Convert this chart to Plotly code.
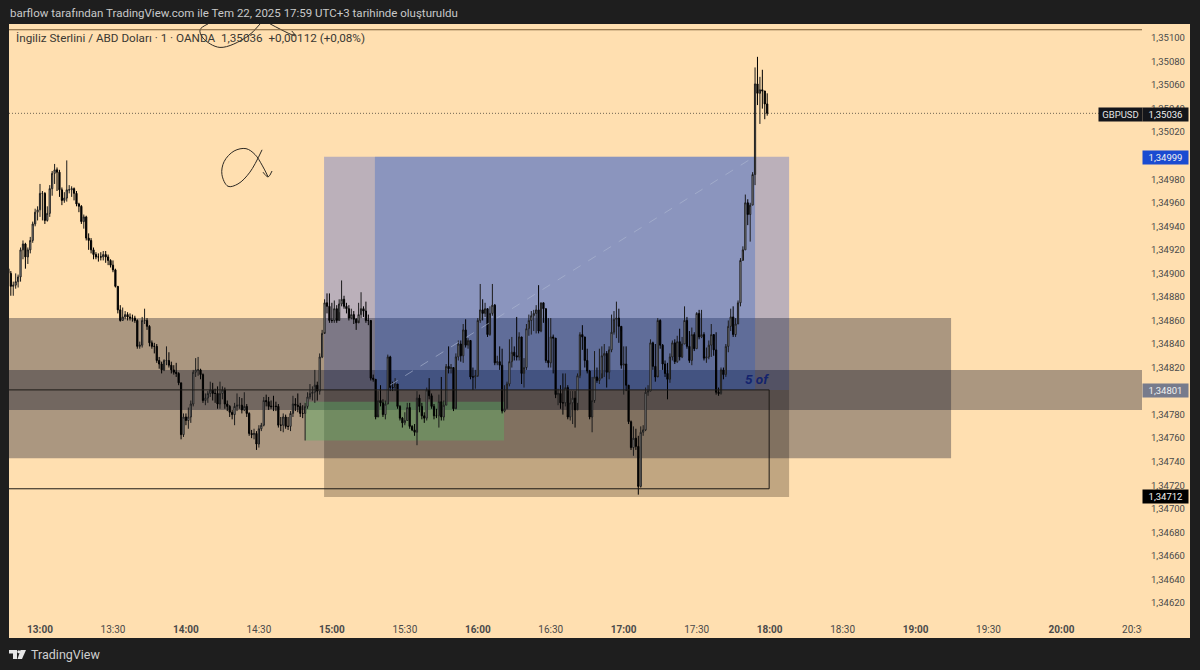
import pandas as pd
import plotly.graph_objects as go

# all prices are points above 1.34000 (900 = 1.34900)
closes = [
    900, 889, 890, 893, 897, 920, 925, 914, 920, 928,
    942, 952, 954, 968, 968, 945, 951, 972, 985, 988,
    986, 971, 962, 964, 971, 971, 972, 968, 959, 957,
    944, 948, 930, 928, 920, 916, 914, 914, 914, 916,
    914, 911, 907, 903, 889, 869, 860, 863, 865, 863,
    862, 862, 860, 838, 839, 860, 860, 855, 841, 838,
    838, 826, 823, 818, 826, 826, 822, 818, 816, 815,
    807, 763, 778, 775, 778, 789, 816, 818, 818, 814,
    792, 794, 798, 801, 798, 798, 789, 798, 801, 789,
    787, 782, 780, 787, 788, 788, 784, 787, 781, 764,
    763, 764, 755, 768, 771, 792, 791, 787, 787, 787,
    787, 771, 771, 778, 770, 770, 781, 789, 788, 787,
    781, 781, 787, 795, 798, 799, 805, 800, 829, 849,
    875, 872, 860, 860, 870, 860, 874, 878, 872, 870,
    862, 865, 861, 858, 865, 870, 868, 860, 860, 811,
    810, 778, 792, 790, 780, 789, 829, 803, 803, 806,
    787, 777, 773, 775, 786, 770, 767, 765, 794, 787,
    779, 777, 801, 796, 787, 779, 779, 791, 778, 788,
    821, 819, 820, 785, 829, 840, 830, 852, 839, 843,
    812, 812, 813, 860, 869, 866, 870, 848, 866, 873,
    824, 825, 822, 783, 785, 806, 825, 833, 830, 829,
    846, 815, 820, 853, 860, 864, 866, 869, 851, 875,
    870, 826, 824, 846, 845, 797, 798, 790, 790, 803,
    778, 790, 794, 784, 813, 848, 846, 826, 817, 778,
    792, 812, 809, 811, 830, 832, 816, 835, 850, 861,
    862, 855, 822, 823, 805, 774, 752, 760, 753, 719,
    765, 767, 799, 800, 841, 821, 812, 860, 839, 823,
    815, 810, 829, 841, 825, 842, 829, 840, 860, 838,
    826, 848, 836, 866, 846, 848, 828, 829, 839, 848,
    835, 799, 798, 818, 814, 838, 855, 863, 848, 857,
    875, 911, 920, 960, 950, 958, 984, 1061, 1053, 1056,
    1055, 1044, 1036,
]
highs = [
    904, 902, 893, 900, 899, 922, 928, 926, 922, 931,
    944, 955, 957, 976, 970, 969, 957, 975, 987, 993,
    990, 988, 973, 969, 996, 975, 974, 973, 970, 960,
    958, 950, 949, 934, 930, 922, 918, 917, 918, 919,
    919, 916, 912, 911, 904, 889, 873, 871, 868, 867,
    866, 865, 864, 861, 842, 863, 870, 862, 856, 843,
    841, 840, 829, 825, 827, 838, 833, 825, 822, 824,
    816, 807, 781, 781, 786, 792, 818, 828, 829, 819,
    815, 798, 800, 808, 807, 802, 804, 808, 804, 803,
    792, 788, 784, 790, 798, 795, 794, 799, 789, 782,
    767, 768, 766, 771, 773, 795, 797, 795, 792, 796,
    791, 789, 778, 781, 780, 778, 783, 796, 794, 798,
    790, 788, 790, 799, 806, 804, 818, 808, 832, 852,
    878, 883, 883, 875, 877, 873, 878, 894, 881, 875,
    873, 870, 868, 862, 875, 884, 872, 876, 865, 858,
    814, 809, 800, 805, 793, 792, 831, 830, 808, 811,
    803, 788, 778, 782, 790, 790, 771, 772, 800, 797,
    790, 782, 803, 811, 798, 789, 785, 797, 812, 792,
    823, 838, 823, 819, 832, 843, 843, 857, 861, 845,
    843, 820, 818, 862, 891, 878, 875, 866, 872, 891,
    874, 830, 838, 836, 805, 808, 844, 846, 838, 863,
    850, 832, 828, 857, 865, 868, 869, 873, 890, 875,
    873, 858, 862, 862, 848, 845, 802, 805, 815, 815,
    805, 800, 800, 800, 815, 850, 856, 843, 836, 818,
    812, 834, 820, 836, 838, 840, 834, 838, 865, 868,
    876, 870, 851, 838, 838, 803, 775, 770, 768, 762,
    770, 771, 803, 805, 844, 842, 840, 862, 861, 840,
    826, 824, 832, 843, 844, 847, 853, 846, 872, 863,
    851, 854, 850, 867, 869, 869, 850, 837, 843, 857,
    843, 850, 803, 820, 820, 840, 860, 870, 872, 862,
    877, 913, 923, 967, 963, 960, 986, 1075, 1084, 1067,
    1073, 1055, 1053,
]
lows = [
    896, 881, 881, 887, 888, 893, 912, 904, 908, 917,
    926, 940, 945, 948, 945, 942, 944, 948, 966, 976,
    970, 965, 958, 960, 961, 968, 965, 962, 957, 952,
    942, 938, 928, 920, 917, 912, 912, 910, 911, 911,
    909, 907, 905, 901, 888, 866, 859, 860, 861, 860,
    860, 859, 858, 836, 836, 837, 857, 852, 838, 836,
    832, 824, 819, 815, 817, 822, 820, 815, 814, 812,
    805, 759, 761, 771, 768, 773, 787, 812, 813, 810,
    790, 788, 790, 795, 792, 790, 785, 785, 793, 785,
    783, 778, 776, 771, 783, 785, 781, 783, 778, 762,
    760, 759, 750, 752, 766, 770, 787, 784, 785, 783,
    783, 769, 766, 765, 768, 767, 766, 778, 783, 782,
    778, 777, 758, 785, 793, 792, 790, 792, 797, 828,
    850, 866, 858, 858, 858, 858, 867, 872, 870, 866,
    860, 861, 857, 852, 860, 862, 863, 858, 856, 809,
    808, 776, 780, 787, 778, 776, 789, 800, 800, 800,
    785, 775, 769, 771, 775, 768, 766, 762, 754, 782,
    776, 773, 775, 793, 785, 776, 777, 769, 775, 775,
    788, 815, 815, 783, 786, 826, 825, 824, 837, 836,
    810, 801, 802, 812, 858, 860, 863, 846, 847, 864,
    822, 822, 818, 781, 782, 785, 804, 820, 826, 826,
    826, 806, 803, 818, 847, 848, 851, 849, 849, 850,
    858, 824, 820, 820, 815, 794, 788, 785, 780, 787,
    776, 775, 772, 769, 790, 811, 835, 820, 815, 776,
    765, 790, 807, 806, 815, 812, 803, 810, 833, 848,
    845, 841, 819, 797, 800, 772, 750, 745, 750, 712,
    718, 762, 766, 796, 800, 818, 808, 813, 836, 818,
    812, 793, 807, 826, 823, 824, 826, 828, 840, 836,
    824, 822, 834, 836, 844, 845, 826, 824, 827, 829,
    830, 797, 796, 797, 810, 812, 833, 851, 846, 846,
    857, 872, 911, 920, 941, 927, 958, 975, 1043, 1027,
    1040, 1031, 1034,
]
first_open = 904
first_minute = -13  # minutes after 13:00

# freehand drawings: minutes after 13:00, price points
alpha_min = [91.3, 86.3, 81.4, 77.3, 74.8, 75.7, 79.8, 84.7, 88.4, 91.3, 93.8]
alpha_pts = [1005, 986, 976, 974, 984, 995, 1004, 1006, 1001, 992, 982]
alpha_head_min = [91.7, 93.8, 95.4]
alpha_head_pts = [986, 982, 987]
scribble_min = [90.5, 85.1, 74, 67, 65.8, 69.1]
scribble_pts = [1112, 1101, 1092, 1100, 1107, 1112]
scribble_arrow_min = [94.6, 104.9, 103.5]
scribble_arrow_pts = [1112, 1102, 1106]

price_ticks = list(range(620, 1101, 20))
time_ticks = list(range(0, 451, 30))


def t(m):
    return pd.Timestamp("2025-07-22 13:00") + pd.Timedelta(minutes=m)


def price(v):
    return (134000 + v) / 100000


def fmt(v):
    return f"{price(v):.5f}".replace(".", ",")


# pixel position in the window -> paper coordinates
def px(x):
    return (x - 9) / 1133


def py(y):
    return (638 - y) / 614


times = [t(first_minute + i) for i in range(len(closes))]
opens = [first_open] + closes[:-1]

fig = go.Figure()
fig.add_trace(go.Candlestick(
    x=times,
    open=[price(v) for v in opens],
    high=[price(v) for v in highs],
    low=[price(v) for v in lows],
    close=[price(v) for v in closes],
    increasing=dict(line=dict(color="#1c1c1c", width=1), fillcolor="#c8c8c8"),
    decreasing=dict(line=dict(color="#000000", width=1), fillcolor="#000000"),
    showlegend=False,
))

for mins, pts in [(alpha_min, alpha_pts), (alpha_head_min, alpha_head_pts),
                  (scribble_min, scribble_pts), (scribble_arrow_min, scribble_arrow_pts)]:
    fig.add_trace(go.Scatter(
        x=[t(m) for m in mins],
        y=[price(v) for v in pts],
        mode="lines",
        line=dict(color="#2e2a24", width=1, shape="spline", smoothing=1),
        hoverinfo="skip",
        showlegend=False,
    ))


def box(m0, m1, p0, p1, color):
    fig.add_shape(type="rect", x0=t(m0), x1=t(m1), y0=price(p0), y1=price(p1),
                  fillcolor=color, line_width=0, layer="below")


def line(m0, m1, p0, p1, color, width=1, dash="solid"):
    fig.add_shape(type="line", x0=t(m0), x1=t(m1), y0=price(p0), y1=price(p1),
                  line=dict(color=color, width=width, dash=dash), layer="above")


left, right = -12.75, 453.1

# long position tool
box(116.8, 308, 801, 999, "rgba(120,130,195,0.5)")
box(116.8, 308, 710, 801, "rgba(100,80,60,0.4)")
# supply zones
box(left, 374.6, 743, 862, "rgba(0,5,30,0.33)")
box(left, right, 784, 818, "rgba(0,5,30,0.33)")
# blue target area goes over the zones so they stay blue under it
box(137.7, 294, 801, 999, "rgba(31,86,200,0.3)")
box(109, 190.8, 758, 791, "rgba(90,180,100,0.4)")
line(143.9, 292.8, 805, 998, "rgba(175,185,210,0.6)", 1, "dash")
# range outline
line(left, 299.8, 801, 801, "#1d1a16")
line(299.8, 299.8, 801, 717, "#1d1a16")
line(left, 299.8, 717, 717, "#1d1a16")
# top line and last price line
line(left, right, 1107, 1107, "#7a5c36", 1.2)
line(left, 435.7, 1036, 1036, "#33302a", 0.7, "1px,2px")

# peach price scale beside the pane, and the patch that cuts the last time label
fig.add_shape(type="rect", xref="paper", yref="paper", x0=1, x1=px(1190), y0=0, y1=1,
              fillcolor="#ffdfb0", line_width=0, layer="below")
fig.add_shape(type="rect", xref="paper", yref="paper", x0=1, x1=px(1190), y0=0, y1=py(614),
              fillcolor="#ffdfb0", line_width=0, layer="above")

# TradingView mark
logo_t = "M {} {} L {} {} L {} {} L {} {} L {} {} L {} {} Z".format(
    px(9), py(650), px(17), py(650), px(17), py(659), px(13), py(659), px(13), py(653.5), px(9), py(653.5))
logo_v = "M {} {} L {} {} L {} {} L {} {} Z".format(
    px(20.5), py(650), px(26), py(650), px(22), py(659), px(17.5), py(659))
for path in [logo_t, logo_v]:
    fig.add_shape(type="path", xref="paper", yref="paper", path=path,
                  fillcolor="#e6e6e6", line_width=0)
fig.add_shape(type="circle", xref="paper", yref="paper", x0=px(17.3), x1=px(20.3), y0=py(653.3), y1=py(650.3),
              fillcolor="#e6e6e6", line_width=0)


def note(x, y, text, size, color, anchor="left", **kw):
    fig.add_annotation(xref="paper", yref="paper", x=px(x), y=py(y), text=text, showarrow=False,
                       xanchor=anchor, yanchor="middle", font=dict(size=size, color=color), **kw)


note(8, 13, "barflow tarafından TradingView.com ile Tem 22, 2025 17:59 UTC+3 tarihinde oluşturuldu", 11.5, "#c9c9c9")
note(14, 38, "İngiliz Sterlini / ABD Doları · 1 · OANDA&nbsp;&nbsp;1,35036&nbsp;&nbsp;+0,00112 (+0,08%)", 11.7, "#3a3833")
note(28.5, 654, "TradingView", 12.5, "#cfcfcf")
note(1120, 114.5, "GBPUSD", 9.5, "#e4e4e4", "center", bgcolor="#14151a", width=41, height=11)
note(1165, 114.5, fmt(1036), 9.5, "#f0f0f0", "center", bgcolor="#14151a", width=43, height=11)
note(1165, 157.5, fmt(999), 9.5, "#f0f0f0", "center", bgcolor="#1a4bd1", width=43, height=11)
note(1165, 390, fmt(801), 9.5, "#f0f0f0", "center", bgcolor="#777b8c", width=43, height=11)
note(1165, 496, fmt(712), 9.5, "#f0f0f0", "center", bgcolor="#000000", width=43, height=11)
note(757, 379, "<b><i>5 of</i></b>", 13.5, "#14246e", "center")

fig.update_layout(
    width=1200,
    height=670,
    margin=dict(l=9, r=58, t=24, b=32),
    paper_bgcolor="#1e1e1e",
    plot_bgcolor="#ffdfb0",
    font=dict(family="Roboto, sans-serif"),
    showlegend=False,
    xaxis=dict(
        range=[t(left), t(right)],
        rangeslider=dict(visible=False),
        showgrid=False,
        zeroline=False,
        showline=False,
        tickmode="array",
        tickvals=[t(m) for m in time_ticks],
        ticktext=[f"<b>{13 + m // 60}:00</b>" if m % 60 == 0 else f"{13 + m // 60}:30" for m in time_ticks],
        ticks="",
        ticklabelposition="inside",
        ticklabeloverflow="allow",
        tickfont=dict(size=10, color="#4a4a4a"),
    ),
    yaxis=dict(
        range=[price(590.2), price(1111.9)],
        side="right",
        showgrid=False,
        zeroline=False,
        showline=False,
        tickmode="array",
        tickvals=[price(v) for v in price_ticks],
        ticktext=[fmt(v) for v in price_ticks],
        ticks="",
        ticklabelstandoff=8,
        tickfont=dict(size=9.5, color="#4a4a4a"),
    ),
)

fig.write_html("out.html", config={"displayModeBar": False}, post_script="document.body.style.margin = '0';")
